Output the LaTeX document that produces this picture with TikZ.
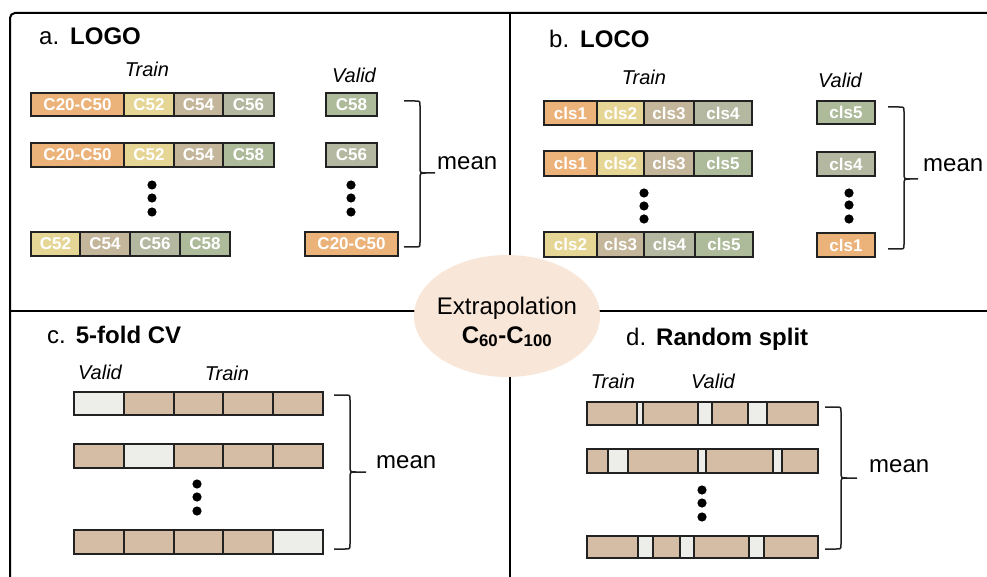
\documentclass[tikz,border=0pt]{standalone}
\usepackage{fontspec}
\setmainfont{Liberation Sans}
\usetikzlibrary{shapes.geometric}
\definecolor{corange}{HTML}{EBB27A}
\definecolor{cyellow}{HTML}{E6D696}
\definecolor{ctan}{HTML}{C4B69B}
\definecolor{cgray}{HTML}{B5B8A0}
\definecolor{cgreen}{HTML}{ADBB9B}
\definecolor{ftan}{HTML}{D5BCA5}
\definecolor{flight}{HTML}{EDEEEA}
\definecolor{cell}{HTML}{F8E6D8}
\definecolor{edge}{HTML}{222222}
\newcommand\cellbox[6]{\draw[cellstyle,fill=#5] (#1,#3) rectangle (#2,#4) node[midway,celltext]{#6};}
\newcommand\mybrace[6]{\draw[bracestyle] (#1,#4) -- ({#2-5},#4) .. controls (#2,#4) .. (#2,{#4+5}) -- (#2,{#5-6}) .. controls (#2,#5) .. ({#2+6},#5) -- (#3,#5)
 ({#2+6},#5) .. controls (#2,#5) .. (#2,{#5+6}) -- (#2,{#6-5}) .. controls (#2,#6) .. ({#2-5},#6) -- (#1,#6);}
\newcommand\threedots[4]{\fill (#1,#2) circle (4.6) (#1,#3) circle (4.6) (#1,#4) circle (4.6);}
\tikzset{
 cellstyle/.style={draw=edge,line width=1.6pt},
 celltext/.style={text=white,font=\fontsize{17}{17}\selectfont\bfseries,inner sep=0pt},
 bracestyle/.style={draw=edge,line width=1.5pt},
 frameline/.style={draw=black,line width=2pt},
 title/.style={anchor=base west,inner sep=0pt,font=\fontsize{24}{24}\selectfont},
 lbl/.style={anchor=base,inner sep=0pt,font=\fontsize{20}{20}\selectfont\itshape},
 meantext/.style={anchor=base west,inner sep=0pt,font=\fontsize{24}{24}\selectfont},
}
\begin{document}
\begin{tikzpicture}[x=1pt,y=-1pt]
\useasboundingbox (0,0) rectangle (987,577);
% frame
\draw[frameline,rounded corners=5pt] (10,577) -- (10,13) -- (987,13);
\draw[frameline] (10,311) -- (987,311);
\draw[frameline] (510,13) -- (510,577);
\node[ellipse,fill=cell,minimum width=186pt,minimum height=122pt,inner sep=0pt] (ext) at (507,316) {};
\node[anchor=base,inner sep=0pt,font=\fontsize{24}{24}\selectfont] (ext1) at (507,314) {Extrapolation};
\node[anchor=base,inner sep=0pt,font=\fontsize{24}{24}\selectfont\bfseries] (ext2) at (507,343) {C$_{\mathbf{60}}$-C$_{\mathbf{100}}$};

% panel a
\node[title] (ta) at (39,45) {a.\hspace{11pt}\textbf{LOGO}};
\node[lbl] (atrain) at (147,77) {Train};
\node[lbl] (avalid) at (354,83) {Valid};
\cellbox{31}{124}{93}{116}{corange}{C20-C50}
\cellbox{124}{174}{93}{116}{cyellow}{C52}
\cellbox{174}{223}{93}{116}{ctan}{C54}
\cellbox{223}{274}{93}{116}{cgray}{C56}
\cellbox{31}{124}{143}{167}{corange}{C20-C50}
\cellbox{124}{174}{143}{167}{cyellow}{C52}
\cellbox{174}{223}{143}{167}{ctan}{C54}
\cellbox{223}{274}{143}{167}{cgreen}{C58}
\cellbox{31}{80}{232}{256}{cyellow}{C52}
\cellbox{80}{130}{232}{256}{ctan}{C54}
\cellbox{130}{180}{232}{256}{cgray}{C56}
\cellbox{180}{230}{232}{256}{cgreen}{C58}
\cellbox{326}{377}{93}{116}{cgreen}{C58}
\cellbox{326}{377}{143}{167}{cgray}{C56}
\cellbox{305}{398}{232}{256}{corange}{C20-C50}
\threedots{152}{185}{198}{212}
\threedots{351}{185}{198}{212}
\mybrace{404}{420}{435}{101}{173}{247}
\node[meantext] (amean) at (437,170) {mean};

% panel b
\node[title] (tb) at (549,48) {b.\hspace{11pt}\textbf{LOCO}};
\node[lbl] (btrain) at (644,85) {Train};
\node[lbl] (bvalid) at (840,88) {Valid};
\cellbox{544}{597}{101}{125}{corange}{cls1}
\cellbox{597}{644}{101}{125}{cyellow}{cls2}
\cellbox{644}{694}{101}{125}{ctan}{cls3}
\cellbox{694}{752}{101}{125}{cgray}{cls4}
\cellbox{544}{597}{151}{176}{corange}{cls1}
\cellbox{597}{644}{151}{176}{cyellow}{cls2}
\cellbox{644}{694}{151}{176}{ctan}{cls3}
\cellbox{694}{752}{151}{176}{cgreen}{cls5}
\cellbox{544}{597}{232}{257}{cyellow}{cls2}
\cellbox{597}{644}{232}{257}{ctan}{cls3}
\cellbox{644}{695}{232}{257}{cgray}{cls4}
\cellbox{695}{753}{232}{257}{cgreen}{cls5}
\cellbox{817}{875}{101}{124}{cgreen}{cls5}
\cellbox{817}{875}{152}{176}{cgray}{cls4}
\cellbox{817}{875}{233}{257}{corange}{cls1}
\threedots{644}{193}{206}{219}
\threedots{849}{193}{205}{219}
\mybrace{888}{904}{918}{107}{179}{249}
\node[meantext] (bmean) at (923,172) {mean};

% panel c
\node[title] (tc) at (47,343) {c.\hspace{10pt}\textbf{5-fold CV}};
\node[lbl] (cvalid) at (100,379) {Valid};
\node[lbl] (ctrain) at (227,380) {Train};
\foreach \ya/\yb/\v in {392/415/1,444/468/2,530/554/5}{
  \foreach \xa/\xb/\k in {74/124/1,124/174/2,174/223/3,223/273/4,273/323/5}{
    \ifnum\k=\v \draw[cellstyle,fill=flight] (\xa,\ya) rectangle (\xb,\yb);
    \else \draw[cellstyle,fill=ftan] (\xa,\ya) rectangle (\xb,\yb); \fi
  }
}
\threedots{197}{484}{497}{511}
\mybrace{334}{350}{366}{395}{472}{549}
\node[meantext] (cmean) at (376,468) {mean};

% panel d
\node[title] (td) at (626,345) {d.\hspace{10pt}\textbf{Random split}};
\node[lbl] (dtrain) at (613,388) {Train};
\node[lbl] (dvalid) at (713,388) {Valid};
\draw[cellstyle,fill=ftan] (587,402) rectangle (818,425);
\foreach \a/\b in {637/643,698/712,748/767}{\draw[cellstyle,fill=flight] (\a,402) rectangle (\b,425);}
\draw[cellstyle,fill=ftan] (587,449) rectangle (818,473);
\foreach \a/\b in {608/628,698/706,773/782}{\draw[cellstyle,fill=flight] (\a,449) rectangle (\b,473);}
\draw[cellstyle,fill=ftan] (587,536) rectangle (818,558);
\foreach \a/\b in {638/653,680/694,749/764}{\draw[cellstyle,fill=flight] (\a,536) rectangle (\b,558);}
\threedots{702}{490}{503}{517}
\mybrace{825}{841}{857}{407}{478}{549}
\node[meantext] (dmean) at (869,472) {mean};
\end{tikzpicture}
\end{document}
